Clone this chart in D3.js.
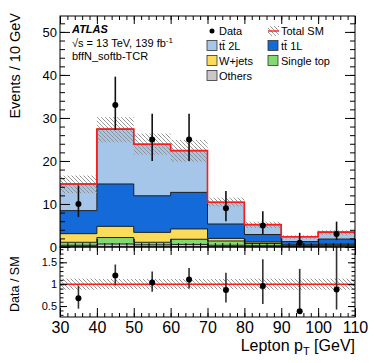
<!DOCTYPE html>
<html>
<head>
<meta charset="utf-8">
<script src="https://cdn.jsdelivr.net/npm/d3@7"></script>
<style>
    body { margin: 0; background: #fff; }
    text { font-family: "Liberation Sans", Arial, sans-serif; fill: #000; }
</style>
</head>
<body>
<svg id="plot" width="374" height="363"></svg>
<script>
// bin edges in GeV
const binEdges = [30, 40, 50, 60, 70, 80, 90, 100, 110];

// stacked backgrounds, bottom to top
const others    = [0.4, 0.7, 0.5, 0.6, 0.4, 0.3, 0.2, 0.3];
const singleTop = [0.7, 1.5, 0.6, 1.2, 1.0, 0.5, 0.2, 0.2];
const wjets     = [2.0, 2.6, 2.3, 2.4, 0.6, 0.35, 0.1, 0.15];
const tt1L      = [5.35, 9.85, 8.5, 8.5, 3.35, 1.75, 0.75, 1.2];
const tt2L      = [6.2, 12.75, 12.0, 9.7, 5.05, 2.3, 1.15, 1.6];

// total SM uncertainty band
const bandLo = [12.5, 24.3, 21.4, 19.8, 9.4, 4.4, 1.9, 2.8];
const bandHi = [16.6, 30.2, 26.4, 24.9, 11.5, 5.9, 2.7, 3.9];

// data
const dataVals = [10, 33, 25, 25, 9, 5, 1, 3];
const dataLo   = [7, 27.2, 20, 20, 6, 3, 0.2, 1.6];
const dataHi   = [14.3, 39.6, 31, 31, 13, 8.3, 3.3, 5.9];

// ratio panel
const ratioVals   = [0.68, 1.2, 1.04, 1.11, 0.87, 0.96, 0.38, 0.88];
const ratioLo     = [0.44, 0.97, 0.83, 0.9, 0.58, 0.55, 0.38, 0.42];
const ratioHi     = [0.97, 1.45, 1.29, 1.37, 1.26, 1.57, 1.35, 1.85];
const ratioBandLo = [0.87, 0.88, 0.88, 0.88, 0.88, 0.87, 0.87, 0.87];
const ratioBandHi = [1.13, 1.12, 1.12, 1.12, 1.12, 1.13, 1.13, 1.13];

const xTicks = [30, 40, 50, 60, 70, 80, 90, 100, 110];
const yTicks = [0, 10, 20, 30, 40, 50];
const rTicks = [0.5, 1, 1.5];

const samples = [
    { name: "tt2L", vals: tt2L, color: "#a5c5e9" },
    { name: "tt1L", vals: tt1L, color: "#146ad9" },
    { name: "wjets", vals: wjets, color: "#fbdc5a" },
    { name: "singleTop", vals: singleTop, color: "#82da71" },
    { name: "others", vals: others, color: "#c8c8c8" }
];

const padLeft = 60, padRight = 355, padTop = 16, padMid = 247, padBottom = 317;

var svg = d3.select("#plot");

var x = d3.scaleLinear().domain([30, 110]).range([padLeft, padRight]);
var y = d3.scaleLinear().domain([0, 53.7]).range([padMid, padTop]);
var r = d3.scaleLinear().domain([0.25, 1.85]).range([padBottom, padMid]);

function binCenter(i) {
    return x((binEdges[i] + binEdges[i + 1]) / 2);
}

// hatch pattern
var defs = svg.append("defs");
var pat = defs.append("pattern")
    .attr("id", "hatch")
    .attr("patternUnits", "userSpaceOnUse")
    .attr("width", 4)
    .attr("height", 4);
pat.append("path")
    .attr("d", "M-1,-1 l2,2 M0,0 l4,4 M3,3 l2,2")
    .attr("stroke", "#8c8c8c")
    .attr("stroke-width", 0.8);

defs.append("clipPath").attr("id", "clipTop")
    .append("rect").attr("x", padLeft).attr("y", padTop).attr("width", padRight - padLeft).attr("height", padMid - padTop);
defs.append("clipPath").attr("id", "clipBot")
    .append("rect").attr("x", padLeft).attr("y", padMid).attr("width", padRight - padLeft).attr("height", padBottom - padMid);

// cumulative sums, cum[0] = full stack
let cum = [];
let running = binEdges.slice(0, -1).map(function() { return 0; });
for (let i = samples.length - 1; i >= 0; i--) {
    running = running.map(function(v, b) { return v + samples[i].vals[b]; });
    cum[i] = running.slice();
}

function stepArea(vals) {
    let p = "M" + x(binEdges[0]) + "," + y(0);
    vals.forEach(function(v, i) {
        p += "V" + y(v) + "H" + x(binEdges[i + 1]);
    });
    p += "V" + y(0) + "Z";
    return p;
}

function stepLine(vals) {
    let p = "M" + x(binEdges[0]) + "," + y(vals[0]);
    vals.forEach(function(v, i) {
        p += "V" + y(v) + "H" + x(binEdges[i + 1]);
    });
    return p;
}

var upper = svg.append("g").attr("clip-path", "url(#clipTop)");

// draw from the full stack down
samples.forEach(function(s, i) {
    upper.append("path")
        .attr("d", stepArea(cum[i]))
        .attr("fill", s.color)
        .attr("stroke", "#1e1e1e")
        .attr("stroke-width", 1);
});

// uncertainty band
upper.selectAll("rect.band")
    .data(bandLo)
    .enter()
    .append("rect")
    .attr("class", "band")
    .attr("x", function(d, i) { return x(binEdges[i]); })
    .attr("width", function(d, i) { return x(binEdges[i + 1]) - x(binEdges[i]); })
    .attr("y", function(d, i) { return y(bandHi[i]); })
    .attr("height", function(d, i) { return y(d) - y(bandHi[i]); })
    .attr("fill", "url(#hatch)");

upper.append("path")
    .attr("d", stepLine(cum[0]))
    .attr("fill", "none")
    .attr("stroke", "#ff1a1a")
    .attr("stroke-width", 1.6);

// data points
var pts = upper.selectAll("g.pt")
    .data(dataVals)
    .enter()
    .append("g")
    .attr("class", "pt");
pts.append("line")
    .attr("x1", function(d, i) { return binCenter(i); })
    .attr("x2", function(d, i) { return binCenter(i); })
    .attr("y1", function(d, i) { return y(dataLo[i]); })
    .attr("y2", function(d, i) { return y(dataHi[i]); })
    .attr("stroke", "#111")
    .attr("stroke-width", 1.6);
pts.append("circle")
    .attr("cx", function(d, i) { return binCenter(i); })
    .attr("cy", function(d) { return y(d); })
    .attr("r", 3)
    .attr("fill", "#000");

// ratio panel
var lower = svg.append("g").attr("clip-path", "url(#clipBot)");
lower.selectAll("rect.rband")
    .data(ratioBandLo)
    .enter()
    .append("rect")
    .attr("class", "rband")
    .attr("x", function(d, i) { return x(binEdges[i]); })
    .attr("width", function(d, i) { return x(binEdges[i + 1]) - x(binEdges[i]); })
    .attr("y", function(d, i) { return r(ratioBandHi[i]); })
    .attr("height", function(d, i) { return r(d) - r(ratioBandHi[i]); })
    .attr("fill", "url(#hatch)");
lower.append("line")
    .attr("x1", x(30)).attr("x2", x(110))
    .attr("y1", r(1)).attr("y2", r(1))
    .attr("stroke", "#ff1a1a")
    .attr("stroke-width", 1.6);
var rpts = lower.selectAll("g.rpt")
    .data(ratioVals)
    .enter()
    .append("g")
    .attr("class", "rpt");
rpts.append("line")
    .attr("x1", function(d, i) { return binCenter(i); })
    .attr("x2", function(d, i) { return binCenter(i); })
    .attr("y1", function(d, i) { return r(ratioLo[i]); })
    .attr("y2", function(d, i) { return r(ratioHi[i]); })
    .attr("stroke", "#333")
    .attr("stroke-width", 1.6);
rpts.append("circle")
    .attr("cx", function(d, i) { return binCenter(i); })
    .attr("cy", function(d) { return r(d); })
    .attr("r", 3)
    .attr("fill", "#000");

// axes / ticks
function ticks(tx, ty, axis, fontSize) {
    let g = svg.append("g").attr("transform", "translate(" + tx + "," + ty + ")");
    g.call(axis);
    g.select(".domain").remove();
    g.selectAll("line").attr("stroke", "#000");
    g.selectAll("text")
        .attr("fill", "#000")
        .style("font-family", "'Liberation Sans', Arial, sans-serif")
        .style("font-size", (fontSize || 10) + "px");
    return g;
}

let xMinor = d3.range(30, 111, 2);
let yMinor = d3.range(0, 54, 2);
let rMinor = d3.range(0.3, 1.81, 0.1);

// upper panel
ticks(padLeft, 0, d3.axisLeft(y).tickValues(yMinor).tickSize(-5).tickFormat(""));
ticks(padLeft, 0, d3.axisLeft(y).tickValues(yTicks).tickSize(-10).tickPadding(3).tickFormat(d3.format("d")), 13);
ticks(padRight, 0, d3.axisRight(y).tickValues(yMinor).tickSize(-5).tickFormat(""));
ticks(padRight, 0, d3.axisRight(y).tickValues(yTicks).tickSize(-10).tickFormat(""));
ticks(0, padTop, d3.axisTop(x).tickValues(xMinor).tickSize(-4).tickFormat(""));
ticks(0, padTop, d3.axisTop(x).tickValues(xTicks).tickSize(-8).tickFormat(""));
ticks(0, padMid, d3.axisBottom(x).tickValues(xMinor).tickSize(-4).tickFormat(""));
ticks(0, padMid, d3.axisBottom(x).tickValues(xTicks).tickSize(-8).tickFormat(""));

// ratio panel
ticks(padLeft, 0, d3.axisLeft(r).tickValues(rMinor).tickSize(-3.5).tickFormat(""));
ticks(padLeft, 0, d3.axisLeft(r).tickValues(rTicks).tickSize(-7).tickPadding(3).tickFormat(d3.format("")), 11);
ticks(padRight, 0, d3.axisRight(r).tickValues(rMinor).tickSize(-3.5).tickFormat(""));
ticks(padRight, 0, d3.axisRight(r).tickValues(rTicks).tickSize(-7).tickFormat(""));
ticks(0, padMid, d3.axisTop(x).tickValues(xMinor).tickSize(-4).tickFormat(""));
ticks(0, padMid, d3.axisTop(x).tickValues(xTicks).tickSize(-8).tickFormat(""));
ticks(0, padBottom, d3.axisBottom(x).tickValues(xMinor).tickSize(-4).tickFormat(""));
ticks(0, padBottom, d3.axisBottom(x).tickValues(xTicks).tickSize(-9).tickPadding(5).tickFormat(d3.format("d")), 16);

// frames
svg.append("rect").attr("x", padLeft).attr("y", padTop).attr("width", padRight - padLeft).attr("height", padMid - padTop)
    .attr("fill", "none").attr("stroke", "#000").attr("stroke-width", 1);
svg.append("rect").attr("x", padLeft).attr("y", padMid).attr("width", padRight - padLeft).attr("height", padBottom - padMid)
    .attr("fill", "none").attr("stroke", "#000").attr("stroke-width", 1);

// axis titles
svg.append("text")
    .attr("transform", "translate(20,13) rotate(-90)")
    .attr("text-anchor", "end")
    .style("font-size", "14.5px")
    .text("Events / 10 GeV");
svg.append("text")
    .attr("transform", "translate(19," + r(1) + ") rotate(-90)")
    .attr("text-anchor", "middle")
    .style("font-size", "12.5px")
    .text("Data / SM");
var xt = svg.append("text")
    .attr("x", padRight)
    .attr("y", 351)
    .attr("text-anchor", "end")
    .style("font-size", "16px");
xt.append("tspan").text("Lepton p");
xt.append("tspan").attr("dy", 4).style("font-size", "11px").text("T");
xt.append("tspan").attr("dy", -4).text(" [GeV]");

// ATLAS label
svg.append("text").attr("x", 72).attr("y", 33)
    .style("font-size", "11px").style("font-weight", "bold").style("font-style", "italic")
    .text("ATLAS");
var lumi = svg.append("text").attr("x", 72).attr("y", 47).style("font-size", "11px");
lumi.append("tspan").text("\u221As = 13 TeV, 139 fb");
lumi.append("tspan").attr("dy", -4).style("font-size", "8px").text("-1");
svg.append("text").attr("x", 72).attr("y", 60).style("font-size", "11px").text("bffN_softb-TCR");

// legend
const legendRows = [31, 45.5, 60.5, 75.5];
var leg = svg.append("g");

function legText(xp, row, label) {
    leg.append("text").attr("x", xp).attr("y", legendRows[row] + 4).style("font-size", "11px").text(label);
}

function legBox(xp, row, color) {
    leg.append("rect").attr("x", xp).attr("y", legendRows[row] - 5).attr("width", 10).attr("height", 10)
        .attr("fill", color).attr("stroke", "#333").attr("stroke-width", 0.8);
}

leg.append("circle").attr("cx", 212).attr("cy", legendRows[0]).attr("r", 2.5).attr("fill", "#000");
legText(219, 0, "Data");

leg.append("rect").attr("x", 268).attr("y", legendRows[0] - 5).attr("width", 11).attr("height", 10)
    .attr("fill", "url(#hatch)");
leg.append("line").attr("x1", 268).attr("x2", 279).attr("y1", legendRows[0]).attr("y2", legendRows[0])
    .attr("stroke", "#ff1a1a").attr("stroke-width", 1.4);
legText(281, 0, "Total SM");

legBox(207, 1, samples[0].color);
legText(219, 1, "tt\u0304 2L");
legBox(268, 1, samples[1].color);
legText(281, 1, "tt\u0304 1L");
legBox(207, 2, samples[2].color);
legText(219, 2, "W+jets");
legBox(268, 2, samples[3].color);
legText(281, 2, "Single top");
legBox(207, 3, samples[4].color);
legText(219, 3, "Others");
</script>
</body>
</html>
